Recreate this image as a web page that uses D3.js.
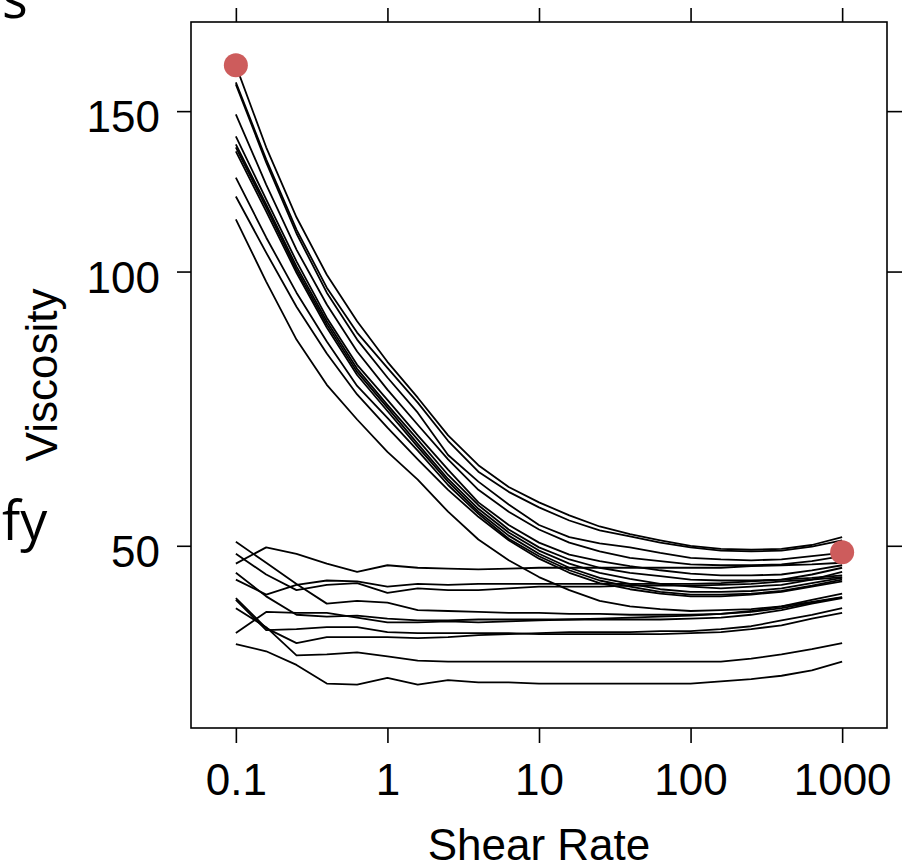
<!DOCTYPE html>
<html>
<head>
<meta charset="utf-8">
<script src="https://cdn.jsdelivr.net/npm/d3@7"></script>
<style>
  body { margin: 0; background: #fff; }
  svg { display: block; }
</style>
</head>
<body>
<svg id="chart" width="907" height="867"></svg>
<script>
// viscosity vs shear rate - lattice style xyplot, log/log

const shearRates = [0.1, 0.1585, 0.2512, 0.3981, 0.631, 1, 1.585, 2.512, 3.981, 6.31,
                    10, 15.85, 25.12, 39.81, 63.1, 100, 158.5, 251.2, 398.1, 631, 1000];

// shear-thinning samples (start high, level off near 45-50)
const highSeries = [
  [168.4,136.9,114.7,99.2,88.2,79.6,72.7,66.1,61.3,58.0,55.8,54.0,52.5,51.5,50.7,50.0,49.6,49.5,49.6,50.1,51.1],
  [161.3,132.8,111.2,96.0,85.7,78.4,71.8,65.2,60.3,57.3,55.1,53.3,52.0,51.2,50.4,49.8,49.4,49.3,49.4,49.9,50.7],
  [160.5,131.8,110.1,94.8,84.2,76.5,70.0,62.9,58.8,55.5,52.7,51.1,50.3,49.8,49.1,48.5,48.3,48.2,48.3,48.7,49.1],
  [148.8,124.6,105.7,92.0,81.7,74.2,67.9,62.2,57.6,54.5,52.1,50.4,49.3,48.5,48.1,47.7,47.6,47.6,47.7,48.1,48.7],
  [140.7,120.0,102.6,89.0,79.0,72.3,66.1,60.6,55.8,52.7,50.4,48.9,48.1,47.5,47.0,46.6,46.4,46.4,46.5,47.0,47.6],
  [137.9,118.5,101.3,88.2,78.2,71.4,65.4,59.8,55.4,52.1,49.8,48.3,47.3,46.7,46.3,45.9,45.8,45.8,45.9,46.5,47.3],
  [136.9,117.6,100.5,87.5,77.6,70.9,64.7,59.2,54.9,51.7,49.4,47.8,46.7,46.0,45.4,45.1,44.9,45.1,45.3,45.9,46.8],
  [135.5,116.4,99.7,86.8,77.0,70.3,64.2,58.8,54.5,51.3,49.0,47.3,46.1,45.4,44.8,44.5,44.5,44.6,44.9,45.5,46.1],
  [126.8,109.0,94.8,83.8,74.9,69.1,63.6,58.3,54.2,50.9,48.7,47.0,45.8,45.1,44.5,44.2,44.2,44.3,44.6,45.2,45.9],
  [120.9,104.9,91.5,81.3,73.3,67.4,62.2,57.6,53.8,50.7,48.4,46.7,45.5,44.8,44.3,44.0,44.0,44.2,44.5,45.1,45.7],
  [114.1,97.5,84.2,75.1,68.8,63.4,59.1,54.5,50.8,48.2,46.2,44.7,43.5,42.9,42.6,42.4,42.5,42.6,42.9,43.4,43.9]
];

// near-newtonian samples (flat band between 35 and 50)
const lowSeries = [
  [50.5,47.9,45.4,43.2,43.5,43.3,42.5,42.4,42.3,42.2,42.2,42.1,42.1,42.0,42.0,42.0,42.1,42.3,42.7,43.3,43.9],
  [49.0,46.5,44.7,45.3,45.5,44.4,44.9,44.7,44.7,44.9,45.1,45.1,45.1,45.2,45.2,45.2,45.3,45.4,45.7,45.9,46.2],
  [47.8,49.8,49.0,47.8,46.8,47.6,47.3,47.2,47.1,47.2,47.3,47.3,47.3,47.3,47.3,47.3,47.3,47.5,47.6,47.7,47.9],
  [46.7,44.0,42.0,41.8,41.9,41.6,41.4,41.4,41.5,41.5,41.5,41.5,41.5,41.5,41.5,41.6,41.7,42.0,42.5,43.2,43.8],
  [45.9,44.2,45.3,45.8,45.7,45.1,45.4,45.3,45.4,45.4,45.4,45.4,45.4,45.4,45.4,45.4,45.5,45.7,45.9,46.1,46.4],
  [43.8,40.6,39.1,39.7,39.7,39.7,39.6,39.7,39.9,40.0,40.1,40.2,40.2,40.2,40.3,40.3,40.5,40.8,41.4,42.0,42.7],
  [43.6,40.4,40.5,40.7,40.7,40.2,40.1,40.1,40.1,40.1,40.0,40.0,40.0,40.0,40.0,40.1,40.2,40.5,40.9,41.6,42.2],
  [40.1,42.3,42.2,42.2,41.7,41.2,41.2,41.3,41.2,41.3,41.4,41.5,41.6,41.7,41.8,41.9,42.1,42.4,42.9,43.6,44.3],
  [42.7,40.7,37.9,38.0,38.2,37.8,37.4,37.3,37.3,37.3,37.3,37.3,37.3,37.3,37.3,37.3,37.3,37.6,38.0,38.5,39.1],
  [39.0,38.3,37.0,35.3,35.2,35.8,35.2,35.6,35.4,35.4,35.3,35.3,35.3,35.3,35.3,35.3,35.5,35.7,36.0,36.5,37.3]
];

// highlighted points
const markerRates = [0.1, 1000];
const markerValues = [168.4, 49.2];

const xTicks = [0.1, 1, 10, 100, 1000];
const xTickLabels = ['0.1', '1', '10', '100', '1000'];
const yTicks = [50, 100, 150];

const svg = d3.select('#chart');
const panel = { left: 191, right: 887, top: 22, bottom: 728 };
const font = '"Liberation Sans", Arial, Helvetica, sans-serif';

// log scales with lattice-like padding
const allValues = highSeries.flat().concat(lowSeries.flat(), markerValues);
const yExt = d3.extent(allValues).map(Math.log);
const yPad = 0.07 * (yExt[1] - yExt[0]);
const xExt = d3.extent(shearRates).map(Math.log10);
const xPad = 0.074 * (xExt[1] - xExt[0]);

const x = d3.scaleLog()
  .domain([Math.pow(10, xExt[0] - xPad), Math.pow(10, xExt[1] + xPad)])
  .range([panel.left, panel.right]);
const y = d3.scaleLog()
  .domain([Math.exp(yExt[0] - yPad), Math.exp(yExt[1] + yPad)])
  .range([panel.bottom, panel.top]);

// cut-off text from neighbouring figure
svg.append('text')
   .attr('x', 2).attr('y', 18)
   .attr('font-family', '"Open Sans", sans-serif')
   .attr('font-size', '54px')
   .text('s');
svg.append('text')
   .attr('x', 2).attr('y', 540)
   .attr('font-family', '"Open Sans", sans-serif')
   .attr('font-size', '54px')
   .text('fy');

// axes (ticks outside the panel on all four sides)
const tickStyle = g => {
  g.select('.domain').remove();
  g.selectAll('line').attr('stroke', '#000').attr('stroke-width', 1.6);
  g.selectAll('text').attr('font-family', font).attr('font-size', '44px').attr('fill', '#000');
};

svg.append('g')
   .attr('transform', `translate(0,${panel.bottom})`)
   .call(d3.axisBottom(x).tickValues(xTicks).tickSize(15).tickPadding(21)
         .tickFormat((d, i) => xTickLabels[i]))
   .call(tickStyle);

svg.append('g')
   .attr('transform', `translate(0,${panel.top})`)
   .call(d3.axisTop(x).tickValues(xTicks).tickSize(14).tickFormat(''))
   .call(tickStyle);

const left = svg.append('g')
   .attr('transform', `translate(${panel.left},0)`)
   .call(d3.axisLeft(y).tickValues(yTicks).tickSize(14).tickPadding(17)
         .tickFormat(d3.format('d')))
   .call(tickStyle);
left.selectAll('text').attr('dy', null).attr('dominant-baseline', null)
    .attr('transform', 'translate(0,20.5)');

svg.append('g')
   .attr('transform', `translate(${panel.right},0)`)
   .call(d3.axisRight(y).tickValues(yTicks).tickSize(15).tickFormat(''))
   .call(tickStyle);

// panel border
svg.append('rect')
   .attr('x', panel.left).attr('y', panel.top)
   .attr('width', panel.right - panel.left)
   .attr('height', panel.bottom - panel.top)
   .attr('fill', 'none')
   .attr('stroke', '#000')
   .attr('stroke-width', 1.6);

// curves
const line = d3.line()
  .x((d, i) => x(shearRates[i]))
  .y(d => y(d));

svg.append('g')
   .attr('class', 'curves')
   .selectAll('path')
   .data(highSeries.concat(lowSeries))
   .join('path')
   .attr('d', line)
   .attr('fill', 'none')
   .attr('stroke', '#000')
   .attr('stroke-width', 1.8)
   .attr('stroke-linejoin', 'round');

// markers
svg.append('g')
   .selectAll('circle')
   .data(markerRates)
   .join('circle')
   .attr('cx', d => x(d))
   .attr('cy', (d, i) => y(markerValues[i]))
   .attr('r', 12)
   .attr('fill', '#cd5c5c');

// axis titles
svg.append('text')
   .attr('x', (panel.left + panel.right) / 2)
   .attr('y', 860)
   .attr('text-anchor', 'middle')
   .attr('font-family', font)
   .attr('font-size', '44px')
   .text('Shear Rate');

svg.append('text')
   .attr('transform', `translate(57,${(panel.top + panel.bottom) / 2}) rotate(-90)`)
   .attr('text-anchor', 'middle')
   .attr('font-family', font)
   .attr('font-size', '44px')
   .text('Viscosity');
</script>
</body>
</html>
